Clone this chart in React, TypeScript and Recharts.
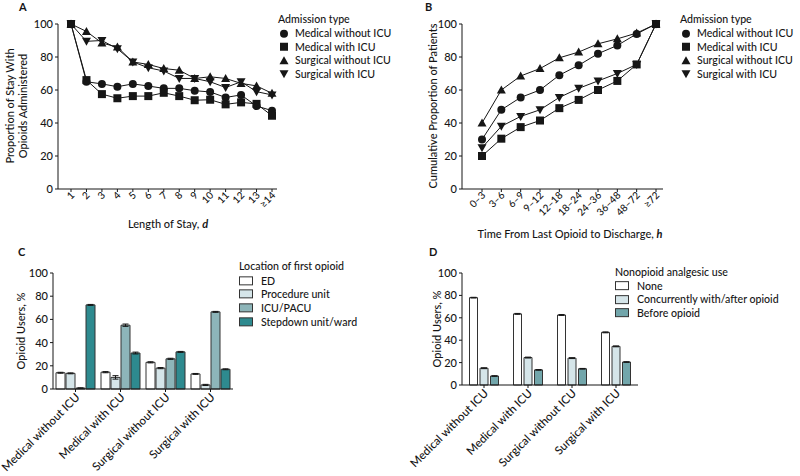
import { LineChart, Line, BarChart, Bar, XAxis, YAxis, ErrorBar } from "recharts";

const FONT = "Lato, 'Open Sans', sans-serif";
const INK = "#161616";

// A: proportion of stay with opioids, by length of stay
const stayDays = ["1", "2", "3", "4", "5", "6", "7", "8", "9", "10", "11", "12", "13", "≥14"];
const stayMedNoIcu = [100, 65, 63.7, 62, 63.7, 62.4, 61, 61, 59.6, 58.8, 55.5, 57, 50.3, 47.5];
const stayMedIcu = [100, 66, 57.5, 55, 56.3, 56.3, 58.3, 56.3, 53.8, 54.1, 51.3, 52.5, 51.6, 44.4];
const staySurgNoIcu = [100, 95.5, 88.5, 86, 77, 75.5, 73, 72, 67, 68, 67, 64, 62.5, 58];
const staySurgIcu = [100, 89.5, 90, 85, 77, 73.5, 71.5, 67, 67, 65, 61.5, 65, 59, 57];

// B: cumulative proportion by time from last opioid to discharge
const hourBins = ["0–3", "3–6", "6–9", "9–12", "12–18", "18–24", "24–36", "36–48", "48–72", "≥72"];
const cumMedNoIcu = [30, 48, 55.5, 60, 69, 75, 82, 87, 94, 100];
const cumMedIcu = [20, 30.5, 37.5, 41.5, 49, 54, 60, 65.5, 75.5, 100];
const cumSurgNoIcu = [40, 60, 68.5, 73, 79.5, 83, 88, 91, 94.5, 100];
const cumSurgIcu = [25, 38, 44, 48, 55.5, 61, 65.5, 70, 75.5, 100];

// C: location of first opioid
const admissionTypes = ["Medical without ICU", "Medical with ICU", "Surgical without ICU", "Surgical with ICU"];
const locEd = [14, 14.5, 23, 13];
const locProcedure = [13.5, 10, 18, 3.5];
const locIcuPacu = [0.8, 55, 26, 66.5];
const locStepdown = [72.5, 31, 32, 17];
const locEdErr = [0.4, 0.5, 0.5, 0.4];
const locProcedureErr = [0.4, 1.5, 0.5, 0.5];
const locIcuPacuErr = [0.2, 1, 0.5, 0.4];
const locStepdownErr = [0.4, 0.8, 0.4, 0.4];

// D: nonopioid analgesic use
const nonNone = [78, 63.5, 62.5, 47];
const nonConcurrent = [15, 24.5, 24, 34.5];
const nonBefore = [8, 13.5, 14.5, 20.5];
const nonNoneErr = [0.3, 0.4, 0.4, 0.4];
const nonConcurrentErr = [0.4, 0.4, 0.4, 0.4];
const nonBeforeErr = [0.3, 0.3, 0.3, 0.3];

const pctTicks = [0, 20, 40, 60, 80, 100];

const stayData = stayDays.map((day, i) => ({
  day,
  medNoIcu: stayMedNoIcu[i],
  medIcu: stayMedIcu[i],
  surgNoIcu: staySurgNoIcu[i],
  surgIcu: staySurgIcu[i],
}));

const cumData = hourBins.map((bin, i) => ({
  bin,
  medNoIcu: cumMedNoIcu[i],
  medIcu: cumMedIcu[i],
  surgNoIcu: cumSurgNoIcu[i],
  surgIcu: cumSurgIcu[i],
}));

const locData = admissionTypes.map((type, i) => ({
  type,
  ed: locEd[i],
  proc: locProcedure[i],
  icu: locIcuPacu[i],
  step: locStepdown[i],
  edErr: locEdErr[i],
  procErr: locProcedureErr[i],
  icuErr: locIcuPacuErr[i],
  stepErr: locStepdownErr[i],
}));

const nonData = admissionTypes.map((type, i) => ({
  type,
  none: nonNone[i],
  conc: nonConcurrent[i],
  before: nonBefore[i],
  noneErr: nonNoneErr[i],
  concErr: nonConcurrentErr[i],
  beforeErr: nonBeforeErr[i],
}));

type Shape = "circle" | "square" | "up" | "down";

function marker(shape: Shape, cx: number, cy: number, key?: string | number) {
  if (shape === "circle") return <circle key={key} cx={cx} cy={cy} r={4} fill={INK} />;
  if (shape === "square") return <rect key={key} x={cx - 4} y={cy - 4} width={8} height={8} fill={INK} />;
  if (shape === "up")
    return <polygon key={key} points={`${cx},${cy - 4.5} ${cx + 4.5},${cy + 3.5} ${cx - 4.5},${cy + 3.5}`} fill={INK} />;
  return <polygon key={key} points={`${cx},${cy + 4.5} ${cx + 4.5},${cy - 3.5} ${cx - 4.5},${cy - 3.5}`} fill={INK} />;
}

const dotOf = (shape: Shape) => (p: any) => marker(shape, p.cx, p.cy, p.index);

const admissionSeries: { key: string; name: string; shape: Shape }[] = [
  { key: "medNoIcu", name: "Medical without ICU", shape: "circle" },
  { key: "medIcu", name: "Medical with ICU", shape: "square" },
  { key: "surgNoIcu", name: "Surgical without ICU", shape: "up" },
  { key: "surgIcu", name: "Surgical with ICU", shape: "down" },
];

const locSeries = [
  { key: "ed", err: "edErr", name: "ED", fill: "#ffffff" },
  { key: "proc", err: "procErr", name: "Procedure unit", fill: "#d5e5e9" },
  { key: "icu", err: "icuErr", name: "ICU/PACU", fill: "#8db5b9" },
  { key: "step", err: "stepErr", name: "Stepdown unit/ward", fill: "#2e8a8f" },
];

const nonSeries = [
  { key: "none", err: "noneErr", name: "None", fill: "#ffffff" },
  { key: "conc", err: "concErr", name: "Concurrently with/after opioid", fill: "#d5e5e9" },
  { key: "before", err: "beforeErr", name: "Before opioid", fill: "#72a6ab" },
];

const textStyle = { fontFamily: FONT, fill: INK, fontWeight: 500 };

const rotTick = (fontSize: number, dx: number, dy: number) => (p: any) => (
  <text
    x={p.x + dx}
    y={p.y + dy}
    transform={`rotate(-45 ${p.x + dx} ${p.y + dy})`}
    textAnchor="end"
    fontSize={fontSize}
    style={textStyle}
  >
    {p.payload.value}
  </text>
);

const yTitle = (lines: string[], x0: number, cy: number, gap: number) => () => (
  <g>
    {lines.map((line, i) => (
      <text
        key={line}
        x={x0 + i * gap}
        y={cy}
        transform={`rotate(-90 ${x0 + i * gap} ${cy})`}
        textAnchor="middle"
        dominantBaseline="central"
        fontSize={11}
        style={textStyle}
      >
        {line}
      </text>
    ))}
  </g>
);

const xTitle = (main: string, ital: string, cx: number, cy: number) => () => (
  <text x={cx} y={cy} textAnchor="middle" dominantBaseline="central" fontSize={11} style={textStyle}>
    {main}
    <tspan fontStyle="italic" fontWeight={700}>{ital}</tspan>
  </text>
);

const yTick = { fontSize: 11, fill: INK, fontFamily: FONT, fontWeight: 500 };

function SymbolLegend({ left, top, title, rowH }: { left: number; top: number; title: string; rowH: number }) {
  return (
    <div style={{ position: "absolute", left, top, fontFamily: FONT, fontSize: 10.6, fontWeight: 500, color: INK, whiteSpace: "nowrap" }}>
      <div style={{ height: rowH, lineHeight: `${rowH}px` }}>{title}</div>
      {admissionSeries.map((s) => (
        <div key={s.key} style={{ display: "flex", alignItems: "center", height: rowH }}>
          <svg width={12} height={rowH}>{marker(s.shape, 6, rowH / 2)}</svg>
          <span style={{ marginLeft: 5 }}>{s.name}</span>
        </div>
      ))}
    </div>
  );
}

function SwatchLegend({ left, top, title, rowH, gap, items }: any) {
  return (
    <div style={{ position: "absolute", left, top, fontFamily: FONT, fontSize: 10.6, fontWeight: 500, color: INK, whiteSpace: "nowrap" }}>
      <div style={{ height: rowH, lineHeight: `${rowH}px` }}>{title}</div>
      {items.map((s: any) => (
        <div key={s.key} style={{ display: "flex", alignItems: "center", height: rowH }}>
          <svg width={14} height={rowH}>
            <rect x={0.5} y={rowH / 2 - 4} width={13} height={8} fill={s.fill} stroke="#333" strokeWidth={1} />
          </svg>
          <span style={{ marginLeft: gap }}>{s.name}</span>
        </div>
      ))}
    </div>
  );
}

const panelLetter = (letter: string, left: number, top: number) => (
  <div style={{ position: "absolute", left, top, fontFamily: FONT, fontSize: 11, fontWeight: 700, color: INK }}>
    {letter}
  </div>
);

export default function App() {
  return (
    <div style={{ position: "absolute", left: 0, top: 0, width: 800, height: 476, background: "#fff", overflow: "hidden" }}>
      <div style={{ position: "absolute", left: 0, top: 0 }}>
        <LineChart width={400} height={240} data={stayData} margin={{ top: 24, right: 123, bottom: 0, left: 0 }}>
          <XAxis
            dataKey="day"
            height={51}
            interval={0}
            padding={{ left: 13, right: 5 }}
            stroke={INK}
            tickSize={3}
            tick={rotTick(10, 4, 2)}
            label={xTitle("Length of Stay, ", "d", 168, 223)}
          />
          <YAxis
            width={58}
            domain={[0, 100]}
            ticks={pctTicks}
            stroke={INK}
            tickSize={3}
            tickMargin={2}
            tick={yTick}
            label={yTitle(["Proportion of Stay With", "Opioids Administered"], 9, 106, 13)}
          />
          {admissionSeries.map((s) => (
            <Line
              key={s.key}
              dataKey={s.key}
              name={s.name}
              stroke={INK}
              strokeWidth={1}
              dot={dotOf(s.shape)}
              activeDot={false}
              isAnimationActive={false}
            />
          ))}
        </LineChart>
      </div>
      <SymbolLegend left={278} top={13} title="Admission type" rowH={13.5} />

      <div style={{ position: "absolute", left: 400, top: 0 }}>
        <LineChart width={400} height={260} data={cumData} margin={{ top: 24, right: 137, bottom: 0, left: 0 }}>
          <XAxis
            dataKey="bin"
            height={71}
            interval={0}
            padding={{ left: 20, right: 7 }}
            stroke={INK}
            tickSize={3}
            tick={rotTick(10, 4, 2)}
            label={xTitle("Time From Last Opioid to Discharge, ", "h", 170, 233)}
          />
          <YAxis
            width={62}
            domain={[0, 100]}
            ticks={pctTicks}
            stroke={INK}
            tickSize={3}
            tickMargin={2}
            tick={yTick}
            label={yTitle(["Cumulative Proportion of Patients"], 32, 106, 0)}
          />
          {admissionSeries.map((s) => (
            <Line
              key={s.key}
              dataKey={s.key}
              name={s.name}
              stroke={INK}
              strokeWidth={1}
              dot={dotOf(s.shape)}
              activeDot={false}
              isAnimationActive={false}
            />
          ))}
        </LineChart>
      </div>
      <SymbolLegend left={680} top={13} title="Admission type" rowH={13.5} />

      <div style={{ position: "absolute", left: 0, top: 240 }}>
        <BarChart
          width={400}
          height={236}
          data={locData}
          margin={{ top: 33, right: 167, bottom: 0, left: 0 }}
          barCategoryGap={3}
          barGap={1}
        >
          <XAxis dataKey="type" height={87} interval={0} stroke={INK} tickSize={3} tick={rotTick(11.5, 5, 4)} />
          <YAxis
            width={53}
            domain={[0, 100]}
            ticks={pctTicks}
            stroke={INK}
            tickSize={3}
            tickMargin={2}
            tick={yTick}
            label={yTitle(["Opioid Users, %"], 20, 91, 0)}
          />
          {locSeries.map((s) => (
            <Bar key={s.key} dataKey={s.key} name={s.name} fill={s.fill} stroke="#333" strokeWidth={1} isAnimationActive={false}>
              <ErrorBar dataKey={s.err} width={3} stroke={INK} strokeWidth={1} direction="y" isAnimationActive={false} />
            </Bar>
          ))}
        </BarChart>
      </div>
      <SwatchLegend left={239} top={260} title="Location of first opioid" rowH={13.7} gap={8} items={locSeries} />

      <div style={{ position: "absolute", left: 400, top: 240 }}>
        <BarChart
          width={400}
          height={236}
          data={nonData}
          margin={{ top: 33, right: 162, bottom: 0, left: 0 }}
          barCategoryGap={7.5}
          barGap={2.5}
        >
          <XAxis dataKey="type" height={91} interval={0} stroke={INK} tickSize={3} tick={rotTick(11.5, 5, 4)} />
          <YAxis
            width={62}
            domain={[0, 100]}
            ticks={pctTicks}
            stroke={INK}
            tickSize={3}
            tickMargin={2}
            tick={yTick}
            label={yTitle(["Opioid Users, %"], 36, 89, 0)}
          />
          {nonSeries.map((s) => (
            <Bar key={s.key} dataKey={s.key} name={s.name} fill={s.fill} stroke="#333" strokeWidth={1} isAnimationActive={false}>
              <ErrorBar dataKey={s.err} width={3} stroke={INK} strokeWidth={1} direction="y" isAnimationActive={false} />
            </Bar>
          ))}
        </BarChart>
      </div>
      <SwatchLegend left={615} top={266} title="Nonopioid analgesic use" rowH={13.3} gap={8} items={nonSeries} />

      {panelLetter("A", 19, 0)}
      {panelLetter("B", 425, 0)}
      {panelLetter("C", 18, 245)}
      {panelLetter("D", 429, 245)}
    </div>
  );
}
